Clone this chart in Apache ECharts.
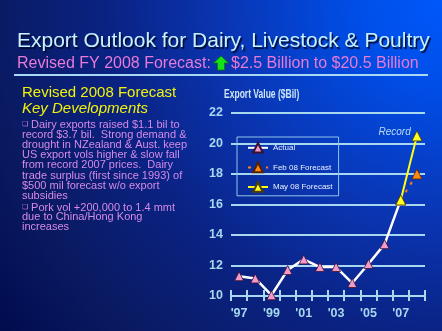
<!DOCTYPE html>
<html>
<head>
<meta charset="utf-8">
<script src="https://cdn.jsdelivr.net/npm/echarts@6/dist/echarts.min.js"></script>
<style>
  html, body { margin: 0; padding: 0; background: #0a1a60; }
  #chart { width: 442px; height: 331px; }
</style>
</head>
<body>
<div id="chart"></div>
<script>
// Fiscal years on the category axis
const years = ['97', '98', '99', '00', '01', '02', '03', '04', '05', '06', '07', '08'];
// Export value, $ billion
const actual = [11.3, 11.15, 10.05, 11.7, 12.4, 11.9, 11.9, 10.85, 12.1, 13.4, 16.3, null];
const feb08Forecast = [null, null, null, null, null, null, null, null, null, null, 16.3, 18.0];
const may08Forecast = [null, null, null, null, null, null, null, null, null, null, 16.3, 20.5];
const yMin = 10, yMax = 22, yStep = 2;

const sans = '"Liberation Sans", Arial, sans-serif';
const axisBlue = '#a8d8f0';

const chart = echarts.init(document.getElementById('chart'), null, { renderer: 'canvas' });

const bodyColor = '#d68ae8';
const bodyRich = { b: { fontSize: 7, fill: bodyColor, color: bodyColor } };
const bullet1 = [
  '{b|\u274F} Dairy exports raised $1.1 bil to',
  'record $3.7 bil.  Strong demand &',
  'drought in NZealand & Aust. keep',
  'US export vols higher & slow fall',
  'from record 2007 prices.  Dairy',
  'trade surplus (first since 1993) of',
  '$500 mil forecast w/o export',
  'subsidies'
].join('\n');
const bullet2 = [
  '{b|\u274F} Pork vol +200,000 to 1.4 mmt',
  'due to China/Hong Kong',
  'increases'
].join('\n');

chart.setOption({
  backgroundColor: {
    type: 'radial', x: 1, y: 0, r: 1.7,
    colorStops: [
      { offset: 0, color: '#0058fa' },
      { offset: 0.15, color: '#004ee8' },
      { offset: 0.4, color: '#0a34b0' },
      { offset: 0.6, color: '#0a2282' },
      { offset: 0.8, color: '#0a1a62' },
      { offset: 1, color: '#000a4c' }
    ]
  },
  animation: false,
  graphic: [
    {
      type: 'text', left: 17, top: 31, z: 10,
      style: {
        text: 'Export Outlook for Dairy, Livestock & Poultry',
        font: '21px ' + sans, fill: '#c8f2ff',
        textShadowColor: '#000a30', textShadowOffsetX: 1.5, textShadowOffsetY: 1.5, textShadowBlur: 1
      }
    },
    {
      type: 'text', left: 17, top: 56, z: 10,
      style: { text: 'Revised FY 2008 Forecast:', font: '16px ' + sans, fill: '#e87ad8' }
    },
    {
      type: 'polygon', z: 10,
      shape: { points: [[221, 56], [228.5, 63], [224.5, 63], [224.5, 70], [217.5, 70], [217.5, 63], [213.5, 63]] },
      style: { fill: '#18e018', stroke: '#0a7a0a', lineWidth: 0.8 }
    },
    {
      type: 'text', left: 231, top: 56, z: 10,
      style: { text: '$2.5 Billion to $20.5 Billion', font: '16px ' + sans, fill: '#e87ad8' }
    },
    {
      type: 'rect', z: 10,
      shape: { x: 14, y: 74, width: 414, height: 2 },
      style: { fill: '#a8d8f4' }
    },
    {
      type: 'text', left: 22, top: 85, z: 10,
      style: { text: 'Revised 2008 Forecast', font: '15px ' + sans, fill: '#f2f20a' }
    },
    {
      type: 'text', left: 22, top: 101, z: 10,
      style: { text: 'Key Developments', font: 'italic 15px ' + sans, fill: '#f2f20a' }
    },
    {
      type: 'text', left: 22, top: 119, z: 10,
      style: { text: bullet1, font: '11px ' + sans, fill: bodyColor, lineHeight: 10.2, rich: bodyRich }
    },
    {
      type: 'text', left: 22, top: 202, z: 10,
      style: { text: bullet2, font: '11px ' + sans, fill: bodyColor, lineHeight: 9.6, rich: bodyRich }
    },
    {
      // condensed axis title
      type: 'text', x: 224, y: 89, scaleX: 0.71, z: 10,
      style: { text: 'Export Value ($Bil)', font: 'bold 12px ' + sans, fill: '#cfe6f6' }
    }
  ],
  legend: {
    orient: 'vertical',
    left: 237, top: 137,
    padding: [5, 6, 3, 10],
    itemGap: 8,
    itemWidth: 20, itemHeight: 12,
    borderColor: '#8ec6ea', borderWidth: 1,
    textStyle: { color: '#e8f0ff', fontFamily: sans, fontSize: 8 },
    data: ['Actual', 'Feb 08 Forecast', 'May 08 Forecast']
  },
  grid: { left: 231, right: 17, top: 113, bottom: 35 },
  xAxis: [
    {
      type: 'category', data: years, boundaryGap: true,
      axisLine: { lineStyle: { color: axisBlue, width: 2 } },
      axisTick: { show: true, inside: true, length: 6, interval: 0, lineStyle: { color: axisBlue, width: 2 } },
      axisLabel: {
        interval: 1, margin: 11, color: axisBlue,
        fontFamily: sans, fontWeight: 'bold', fontSize: 12.5,
        formatter: v => "'" + v
      }
    },
    {
      type: 'category', data: years, boundaryGap: true, position: 'bottom',
      axisLine: { show: false },
      axisTick: { show: true, length: 5, interval: 0, lineStyle: { color: axisBlue, width: 2 } },
      axisLabel: { show: false }
    }
  ],
  yAxis: {
    type: 'value', min: yMin, max: yMax, interval: yStep,
    axisLine: { show: false }, axisTick: { show: false },
    axisLabel: { margin: 8, color: axisBlue, fontFamily: sans, fontWeight: 'bold', fontSize: 12.5 },
    splitLine: { lineStyle: { color: axisBlue, width: 2 } }
  },
  series: [
    {
      name: 'Actual', type: 'line', data: actual, z: 3,
      symbol: 'triangle', symbolSize: 9,
      lineStyle: { color: '#ffffff', width: 2.5 },
      itemStyle: { color: '#f49ac8', borderColor: '#3a1030', borderWidth: 0.8 }
    },
    {
      name: 'Feb 08 Forecast', type: 'line', data: feb08Forecast, z: 4,
      symbol: 'triangle', symbolSize: 10,
      lineStyle: { color: '#ff7a20', width: 2, type: [3, 6] },
      itemStyle: { color: '#ff8a10', borderColor: '#5a2000', borderWidth: 0.8 }
    },
    {
      name: 'May 08 Forecast', type: 'line', z: 5,
      data: may08Forecast.map((v, i) => i === may08Forecast.length - 1
        ? { value: v, label: { show: true, formatter: 'Record', position: [-33, -3], color: '#b8dcf4', fontStyle: 'italic', fontSize: 10, fontFamily: sans } }
        : v),
      symbol: 'triangle', symbolSize: 10,
      lineStyle: { color: '#ffff10', width: 2 },
      itemStyle: { color: '#ffff20', borderColor: '#504000', borderWidth: 0.8 }
    }
  ]
});
</script>
</body>
</html>
